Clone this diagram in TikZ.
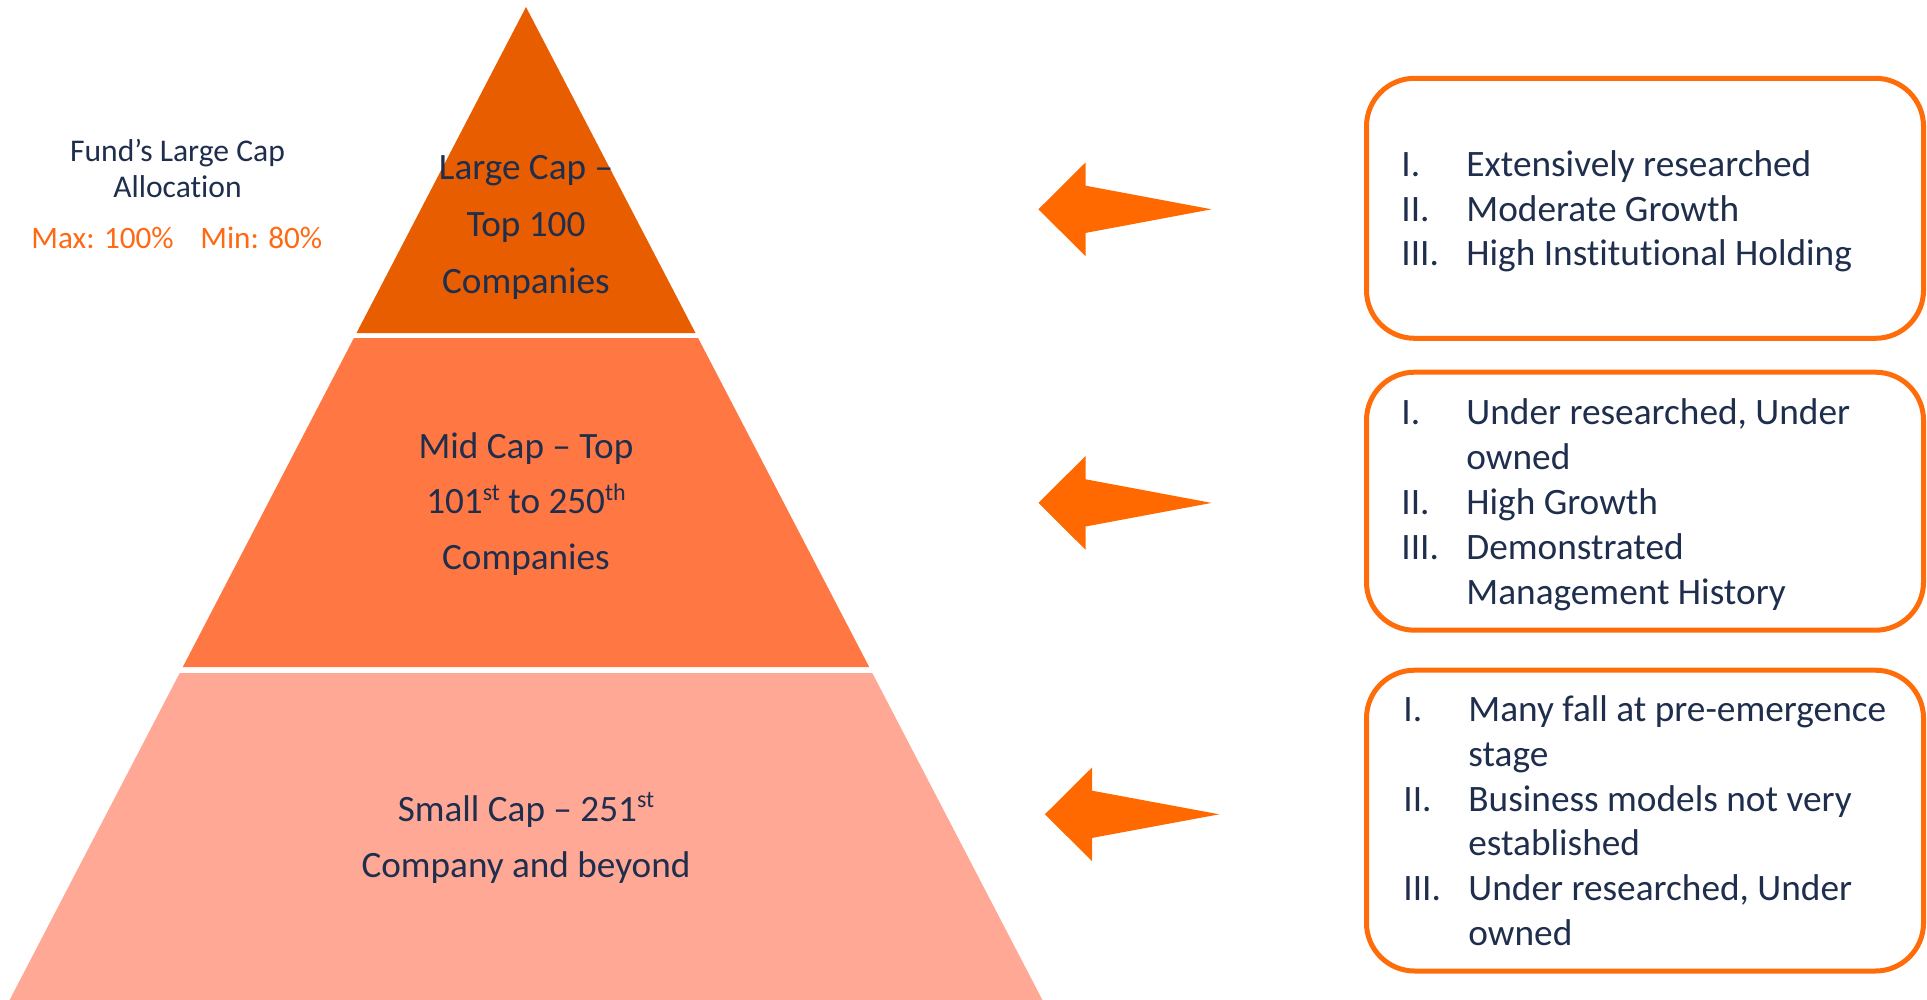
\documentclass[tikz,border=0pt]{standalone}
\usepackage{fontspec}
\setmainfont{Carlito}[Ligatures=NoCommon]
\definecolor{navytext}{RGB}{31,46,77}
\definecolor{orangetext}{RGB}{255,105,20}
\definecolor{largefill}{RGB}{232,93,0}
\definecolor{midfill}{RGB}{255,119,66}
\definecolor{smallfill}{RGB}{255,168,150}
\definecolor{arroworange}{RGB}{255,105,0}
\definecolor{boxorange}{RGB}{255,108,10}
\newcommand\sups[1]{\raisebox{0.36em}{\fontsize{12}{12}\selectfont #1}}
\newcommand\bline[4]{\node[btxt] (#1) at (#2,#3) {#4};}
\newcommand\blockarr[3]{\fill[blockarrow] (#1,#2) -- ++(47.3,-47) -- ++(0,23.4) -- ++(#3,23.6) -- ++(-#3,23.6) -- ++(0,23.4) -- cycle;}
\begin{document}
\begin{tikzpicture}[x=0.5pt,y=-0.5pt,
  ptxt/.style={font=\fontsize{18.6}{22}\selectfont, text=navytext, inner sep=0pt, anchor=base},
  btxt/.style={font=\fontsize{18.65}{22}\selectfont, text=navytext, inner sep=0pt, anchor=base west},
  ltxt/.style={font=\fontsize{15.8}{18}\selectfont, text=navytext, inner sep=0pt, anchor=base},
  otxt/.style={font=\fontsize{15.6}{18}\selectfont, text=orangetext, inner sep=0pt, anchor=base west},
  infobox/.style={draw=boxorange, line width=2.5pt, rounded corners=24pt, inner sep=0pt},
  blockarrow/.style={fill=arroworange}]
\useasboundingbox (0,0) rectangle (1927,1000);
% pyramid layers
\fill[largefill] (526,7) -- (695.5,333) -- (356.5,333) -- cycle;
\fill[midfill] (353.9,338) -- (698.1,338) -- (869.2,667) -- (182.8,667) -- cycle;
\fill[smallfill] (179.7,673) -- (872.3,673) -- (1042.4,1000) -- (9.6,1000) -- cycle;
% pyramid texts
\node[ptxt] (lc1) at (526,180) {Large Cap –};
\node[ptxt] (lc2) at (526,236.5) {Top 100};
\node[ptxt] (lc3) at (526,293) {Companies};
\node[ptxt] (mc1) at (526,458) {Mid Cap – Top};
\node[ptxt] (mc2) at (526,513.5) {101\sups{st} to 250\sups{th}};
\node[ptxt] (mc3) at (526,569.5) {Companies};
\node[ptxt] (sc1) at (526,821) {Small Cap – 251\sups{st}};
\node[ptxt] (sc2) at (526,877) {Company and beyond};
% left allocation text
\node[ltxt] (fa1) at (177.5,161.7) {Fund’s Large Cap};
\node[ltxt] (fa2) at (177.5,197.3) {Allocation};
\node[otxt] (fmax) at (31,248.3) {Max: 100\%};
\node[otxt] (fmin) at (200,248.3) {Min: 80\%};
% arrows
\blockarr{1038.4}{209.3}{125.9}
\blockarr{1038.4}{502.9}{125.9}
\blockarr{1044.9}{814.3}{127.1}
% boxes
\node[infobox, minimum width=278.5pt, minimum height=130pt] (box1) at (1645,208.3) {};
\node[infobox, minimum width=278.5pt, minimum height=129pt] (box2) at (1645,501.2) {};
\node[infobox, minimum width=278.5pt, minimum height=150.4pt] (box3) at (1645,820.6) {};
% box 1 text
\bline{a1n}{1401}{176.7}{I.}
\bline{a1t}{1466}{176.7}{Extensively researched}
\bline{a2n}{1401}{221.3}{II.}
\bline{a2t}{1466}{221.3}{Moderate Growth}
\bline{a3n}{1401}{265.9}{III.}
\bline{a3t}{1466}{265.9}{High Institutional Holding}
% box 2 text
\bline{b1n}{1401}{424.5}{I.}
\bline{b1t}{1466}{424.5}{Under researched, Under}
\bline{b1u}{1466}{469.4}{owned}
\bline{b2n}{1401}{514.3}{II.}
\bline{b2t}{1466}{514.3}{High Growth}
\bline{b3n}{1401}{559.2}{III.}
\bline{b3t}{1466}{559.2}{Demonstrated}
\bline{b3u}{1466}{604.1}{Management History}
% box 3 text
\bline{c1n}{1403}{721.2}{I.}
\bline{c1t}{1468}{721.2}{Many fall at pre-emergence}
\bline{c1u}{1468}{766.1}{stage}
\bline{c2n}{1403}{811}{II.}
\bline{c2t}{1468}{811}{Business models not very}
\bline{c2u}{1468}{855.9}{established}
\bline{c3n}{1403}{900.8}{III.}
\bline{c3t}{1468}{900.8}{Under researched, Under}
\bline{c3u}{1468}{945.7}{owned}
\end{tikzpicture}
\end{document}
